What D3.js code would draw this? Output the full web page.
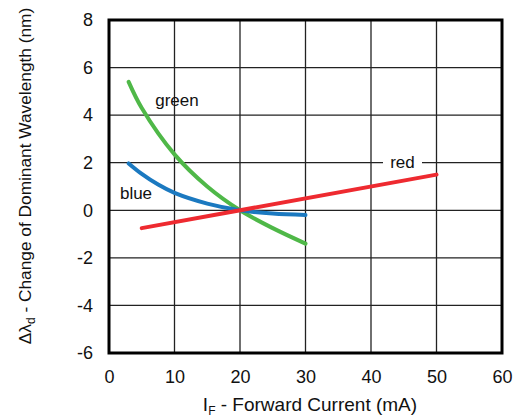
<!DOCTYPE html>
<html><head><meta charset="utf-8">
<script src="https://cdn.jsdelivr.net/npm/d3@7"></script>
<style>body{margin:0;background:#fff;} text{font-family:"Liberation Sans",Arial,sans-serif;}</style>
</head><body>
<svg id="c" width="518" height="420"></svg>
<script>
const xTicks = [0,10,20,30,40,50,60];
const yTicks = [-6,-4,-2,0,2,4,6,8];
const greenX = [3,5,10,15,20,25,30];
const greenY = [5.4,4.3,2.35,1.0,0,-0.75,-1.4];
const blueX = [3,5,7.5,10,15,20,25,30];
const blueY = [1.97,1.53,1.08,0.73,0.28,0,-0.14,-0.2];
const redX = [5,50];
const redY = [-0.75,1.5];

const svg = d3.select("#c");
const L=109, R=502, T=20, B=353;
const x = d3.scaleLinear().domain([0,60]).range([L,R]);
const y = d3.scaleLinear().domain([-6,8]).range([B,T]);

// grid
const g = svg.append("g");
g.selectAll("line.v").data(xTicks.slice(1,-1)).enter().append("line")
  .attr("x1",d=>x(d)).attr("x2",d=>x(d)).attr("y1",T).attr("y2",B)
  .attr("stroke","#222").attr("stroke-width",1.3);
g.selectAll("line.h").data(yTicks.slice(1,-1)).enter().append("line")
  .attr("y1",d=>y(d)).attr("y2",d=>y(d)).attr("x1",L).attr("x2",R)
  .attr("stroke","#222").attr("stroke-width",1.3);

// axes (labels only)
const xa = svg.append("g").attr("transform",`translate(0,${B})`)
  .call(d3.axisBottom(x).tickValues(xTicks).tickFormat(d=>String(d)).tickSize(0).tickPadding(17));
xa.select(".domain").remove();
xa.selectAll("text").attr("font-size",18).attr("fill","#111").attr("font-family","Liberation Sans, Arial, sans-serif");
const ya = svg.append("g").attr("transform",`translate(${L},0)`)
  .call(d3.axisLeft(y).tickValues(yTicks).tickFormat(d=>String(d)).tickSize(0).tickPadding(16));
ya.select(".domain").remove();
ya.selectAll("text").attr("font-size",18).attr("fill","#111").attr("font-family","Liberation Sans, Arial, sans-serif");

// series
const line = d3.line().x(d=>x(d[0])).y(d=>y(d[1])).curve(d3.curveCatmullRom.alpha(0.5));
const zip = (a,b)=>a.map((v,i)=>[v,b[i]]);
const series = [
  {name:"green", data:zip(greenX,greenY), color:"#4fb848"},
  {name:"blue", data:zip(blueX,blueY), color:"#1b79c0"},
  {name:"red", data:zip(redX,redY), color:"#ee2a30"}
];
// red label background (breaks gridline)
svg.append("rect").attr("x",383).attr("y",153).attr("width",39).attr("height",20).attr("fill","#fff");

svg.selectAll("path.s").data(series).enter().append("path")
  .attr("d",d=>line(d.data)).attr("fill","none")
  .attr("stroke",d=>d.color).attr("stroke-width",4).attr("stroke-linecap","round");

// labels
const lab = [
  {t:"green", x:177, y:106},
  {t:"blue", x:136, y:199},
  {t:"red", x:402.5, y:168}
];
svg.selectAll("text.l").data(lab).enter().append("text")
  .attr("x",d=>d.x).attr("y",d=>d.y).attr("text-anchor","middle")
  .attr("font-size",17).attr("fill","#111").text(d=>d.t);

// frame
svg.append("rect").attr("x",L).attr("y",T).attr("width",R-L).attr("height",B-T)
  .attr("fill","none").attr("stroke","#000").attr("stroke-width",3);

// axis titles
const xt = svg.append("text").attr("x",310).attr("y",411).attr("text-anchor","middle")
  .attr("font-size",19).attr("fill","#111");
xt.append("tspan").text("I");
xt.append("tspan").attr("font-size",12).attr("dy",4).text("F");
xt.append("tspan").attr("dy",-4).text(" - Forward Current (mA)");

const yt = svg.append("text").attr("transform","translate(31,176) rotate(-90)")
  .attr("text-anchor","middle").attr("font-size",17.3).attr("fill","#111");
yt.append("tspan").text("Δλ");
yt.append("tspan").attr("font-size",12).attr("dy",4).text("d");
yt.append("tspan").attr("dy",-4).text(" - Change of Dominant Wavelength (nm)");
</script>
</body></html>
